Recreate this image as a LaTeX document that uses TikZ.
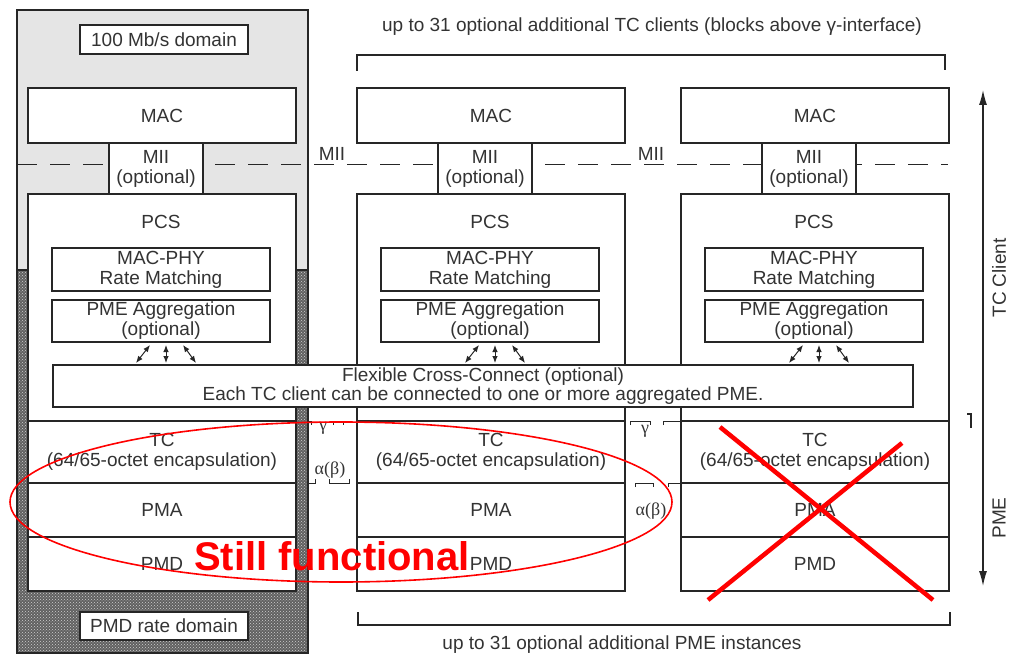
\documentclass[tikz,border=0pt]{standalone}
\usepackage{fontspec}
\setmainfont{Liberation Sans}
\newfontfamily\grfont{Liberation Serif}
\usetikzlibrary{patterns,arrows.meta,calc}
\begin{document}
\begin{tikzpicture}[x=1pt,y=-1pt,
  every node/.style={font=\fontsize{19}{20}\selectfont, text=black!80, inner sep=0pt, align=center},
  box/.style={draw=black!85, fill=white, line width=1.2pt},
  ln/.style={draw=black!85, line width=1.2pt},
  thinln/.style={draw=black!85, line width=1pt},
  dbl/.style={draw=black!85, line width=1pt, {Latex[length=7pt,width=5.5pt]}-{Latex[length=7pt,width=5.5pt]}},
  axisarrow/.style={draw=black!85, line width=1.2pt, -{Latex[length=15pt,width=8pt]}},
  greek/.style={font=\grfont\fontsize{18}{20}\selectfont},
  redline/.style={draw=red, line width=1.6pt},
  redx/.style={draw=red, line width=4.5pt}]
\useasboundingbox (0,0) rectangle (1010,655);

% left column background (100 Mb/s domain / PMD rate domain)
\fill[black!10] (17,10) rectangle (308,270);
\fill[black!62] (17,270) rectangle (308,653);
\fill[pattern=crosshatch dots, pattern color=black!18] (17,270) rectangle (308,653);
\draw[ln] (17,10) rectangle (308,653);
\draw[ln] (17,270) -- (29,270) (296,270) -- (308,270);

\node[box, minimum width=168pt, minimum height=29pt] (dom100) at (164,39.5) {100 Mb/s domain};
\node[box, minimum width=168pt, minimum height=28pt] (dompmd) at (164,626) {PMD rate domain};

% top and bottom brackets
\node (toptxt) at (652,27) {up to 31 optional additional TC clients (blocks above γ-interface)};
\coordinate (tb1) at (357,71); \coordinate (tb2) at (357,55);
\coordinate (tb3) at (945,55); \coordinate (tb4) at (945,70);
\draw[ln] (tb1) -- (tb2) -- (tb3) -- (tb4);
\node (bottxt) at (622,645) {up to 31 optional additional PME instances};
\coordinate (bb1) at (358,612); \coordinate (bb2) at (358,625);
\coordinate (bb3) at (950,625); \coordinate (bb4) at (950,612);
\draw[ln] (bb1) -- (bb2) -- (bb3) -- (bb4);

% MII dashed interface line
\coordinate (dashL) at (17,165); \coordinate (dashR) at (948,165);
\draw[thinln, dash pattern=on 20pt off 13pt] (dashL) -- (dashR);
\node (miiA) at (332,154) {MII};
\node (miiB) at (651,154) {MII};

% the three columns
\foreach \c/\x in {L/28,M/357,R/681}{
  \node[box, minimum width=268pt, minimum height=55pt] (mac\c) at (\x+134,115.5) {MAC};
  \node[box, minimum width=268pt, minimum height=227pt] (pcs\c) at (\x+134,307.5) {};
  \node (pcst\c) at (\x+133,222) {PCS};
  \node[box, minimum width=94pt, minimum height=51pt] (mii\c) at (\x+128,168.5) {MII\\(optional)};
  \node[box, minimum width=218pt, minimum height=43pt] (rate\c) at (\x+133,269.5) {MAC-PHY\\Rate Matching};
  \node[box, minimum width=218pt, minimum height=42pt] (pme\c) at (\x+133,321) {PME Aggregation\\(optional)};
  \node[box, minimum width=268pt, minimum height=62pt] (tc\c) at (\x+134,452) {TC\\(64/65-octet encapsulation)};
  \node[box, minimum width=268pt, minimum height=54pt] (pma\c) at (\x+134,510) {PMA};
  \node[box, minimum width=268pt, minimum height=54pt] (pmd\c) at (\x+134,564) {PMD};
  \coordinate (a1\c) at (\x+122,345); \coordinate (b1\c) at (\x+108,363);
  \coordinate (a2\c) at (\x+138,345); \coordinate (b2\c) at (\x+138,363);
  \coordinate (a3\c) at (\x+155,345); \coordinate (b3\c) at (\x+168,363);
}

% flexible cross-connect
\node[box, minimum width=860pt, minimum height=42pt, font=\fontsize{19}{19}\selectfont] (fcc) at (483,386)
  {Flexible Cross-Connect (optional)\\Each TC client can be connected to one or more aggregated PME.};
\foreach \c in {L,M,R}{
  \draw[dbl] (a1\c) -- (b1\c);
  \draw[dbl] (a2\c) -- (b2\c);
  \draw[dbl] (a3\c) -- (b3\c);
}

% gamma / alpha(beta) interface markers, left gap
\draw[thinln] (309,421) -- (311,421) -- (311,425);
\draw[thinln] (333,425) -- (333,421) -- (343,421) -- (343,425);
\node[greek] (gam1) at (323,428) {γ};
\draw[thinln] (308,483) -- (315,483) -- (315,479);
\draw[thinln] (329,479) -- (329,483) -- (349,483) -- (349,479);
\node[greek] (ab1) at (330,470) {α(β)};
% right gap
\draw[thinln] (630,425) -- (630,421) -- (650,421) -- (650,425);
\draw[thinln] (663,425) -- (663,421) -- (681,421);
\node[greek] (gam2) at (645,431) {γ};
\draw[thinln] (635,487) -- (635,483) -- (653,483) -- (653,487);
\draw[thinln] (668,487) -- (668,483) -- (681,483);
\node[greek] (ab2) at (651,511) {α(β)};

% right axis
\coordinate (axTop) at (983,90); \coordinate (axBrkT) at (983,413);
\coordinate (axBrkB) at (983,427); \coordinate (axBot) at (983,586);
\draw[axisarrow] (axBrkT) -- (axTop);
\draw[axisarrow] (axBrkB) -- (axBot);
\draw[ln] (967,414) -- (971,414) -- (971,428);
\draw[ln] (axBrkT) -- (axBrkB);
\node[rotate=90] (tcclient) at (999,278) {TC Client};
\node[rotate=90] (pmelbl) at (999,518) {PME};

% red annotations
\draw[redline] (341,502) ellipse [x radius=331pt, y radius=80pt];
\node[text=red, font=\fontsize{40}{44}\selectfont\bfseries] (still) at (332,556) {Still functional};
\draw[redx] (720,427) -- (933,600);
\draw[redx] (902,443) -- (708,600);
\end{tikzpicture}
\end{document}
